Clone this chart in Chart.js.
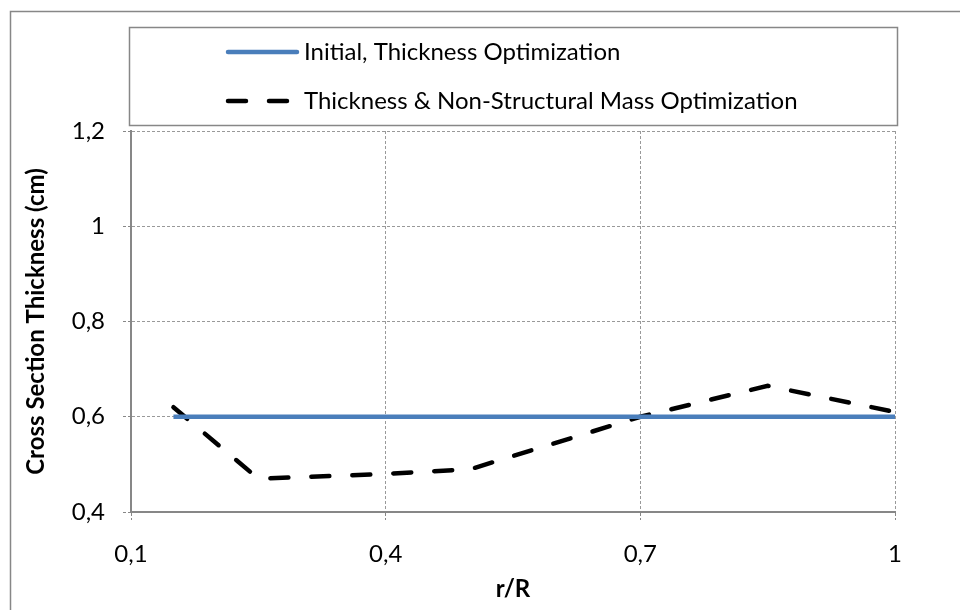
<!DOCTYPE html>
<html>
<head>
<meta charset="utf-8">
<script src="https://cdn.jsdelivr.net/npm/chart.js@4.4.1/dist/chart.umd.min.js"></script>
<style>
  html, body { margin: 0; padding: 0; background: #fff; }
  canvas { display: block; }
</style>
</head>
<body>
<canvas id="graf" width="960" height="610"></canvas>
<script>
// values
var rR = [0.15, 0.25, 0.4, 0.5, 0.7, 0.85, 1];
var initialThk = [0.6, 0.6, 0.6, 0.6, 0.6, 0.6, 0.6];
var nsmThk = [0.62, 0.47, 0.48, 0.49, 0.6, 0.665, 0.61];
var xTicks = [0.1, 0.4, 0.7, 1];
var yTicks = [0.4, 0.6, 0.8, 1, 1.2];
var seriesNames = ['Initial, Thickness Optimization', 'Thickness & Non-Structural Mass Optimization'];

var gray = '#878787';
var fontName = 'Lato';

function toPts(xs, ys) {
    var out = [];
    for (var i = 0; i < xs.length; i++) {
        out.push({x: xs[i], y: ys[i]});
    }
    return out;
}

function commaLabel(v) {
    return String(Math.round(v * 10) / 10).replace('.', ',');
}

// outer frame + boxed legend, drawn like the excel one
var frameLegend = {
    id: 'frameLegend',
    afterDraw: function(chart) {
        var ctx = chart.ctx;
        ctx.save();
        ctx.strokeStyle = gray;
        ctx.lineWidth = 1.5;
        ctx.strokeRect(10.5, 11.5, 960, 620);
        ctx.strokeRect(129.5, 27.5, 768, 98);

        var rows = [52, 101];
        chart.data.datasets.forEach(function(ds, i) {
            var y = rows[i];
            ctx.save();
            ctx.strokeStyle = ds.borderColor;
            ctx.lineWidth = ds.borderWidth;
            ctx.lineCap = 'round';
            ctx.setLineDash(ds.borderDash || []);
            ctx.beginPath();
            ctx.moveTo(228, y);
            ctx.lineTo(ds.borderDash ? 292 : 297, y);
            ctx.stroke();
            ctx.restore();

            ctx.fillStyle = '#000';
            ctx.font = '24px ' + fontName;
            ctx.textBaseline = 'middle';
            ctx.fillText(ds.label, 304, y);
        });
        ctx.restore();
    }
};

var chart = new Chart(document.getElementById('graf'), {
    type: 'line',
    data: {
        datasets: [{
            label: seriesNames[0],
            data: toPts(rR, initialThk),
            borderColor: '#4A7EBB',
            borderWidth: 4.5,
            pointRadius: 0,
            tension: 0
        }, {
            label: seriesNames[1],
            data: toPts(rR, nsmThk),
            borderColor: '#000000',
            borderWidth: 4.5,
            borderDash: [18, 23],
            borderCapStyle: 'round',
            pointRadius: 0,
            tension: 0
        }]
    },
    options: {
        responsive: false,
        animation: false,
        layout: { padding: { left: 0, top: 131, right: 65, bottom: 0 } },
        plugins: {
            legend: { display: false },
            tooltip: { enabled: false }
        },
        scales: {
            x: {
                type: 'linear',
                min: 0.1,
                max: 1,
                afterBuildTicks: function(s) {
                    s.ticks = xTicks.map(function(v) { return {value: v}; });
                },
                afterFit: function(s) { s.height = 98; },
                grid: {
                    color: '#999999',
                    lineWidth: 1,
                    tickLength: 8,
                    tickColor: gray,
                    tickBorderDash: [3, 2]
                },
                border: { display: true, color: gray, width: 2, dash: [3, 2] },
                ticks: {
                    color: '#000',
                    padding: 20,
                    font: { family: fontName, size: 24 },
                    maxRotation: 0,
                    callback: function(v) { return commaLabel(v); }
                },
                title: {
                    display: true,
                    text: 'r/R',
                    color: '#000',
                    font: { family: fontName, size: 24, weight: 'bold' },
                    padding: { top: 0, bottom: 6 }
                }
            },
            y: {
                min: 0.4,
                max: 1.2,
                afterBuildTicks: function(s) {
                    s.ticks = yTicks.map(function(v) { return {value: v}; });
                },
                afterFit: function(s) { s.width = 131; },
                grid: {
                    color: '#999999',
                    lineWidth: 1,
                    tickLength: 8,
                    tickColor: gray,
                    tickBorderDash: [3, 2]
                },
                border: { display: true, color: gray, width: 2, dash: [3, 2] },
                ticks: {
                    color: '#000',
                    padding: 18,
                    font: { family: fontName, size: 24 },
                    callback: function(v) { return commaLabel(v); }
                },
                title: {
                    display: true,
                    text: 'Cross Section Thickness (cm)',
                    color: '#000',
                    font: { family: fontName, size: 24, weight: 'bold' },
                    padding: { top: 22, bottom: 0 }
                }
            }
        }
    },
    plugins: [frameLegend]
});
</script>
</body>
</html>
